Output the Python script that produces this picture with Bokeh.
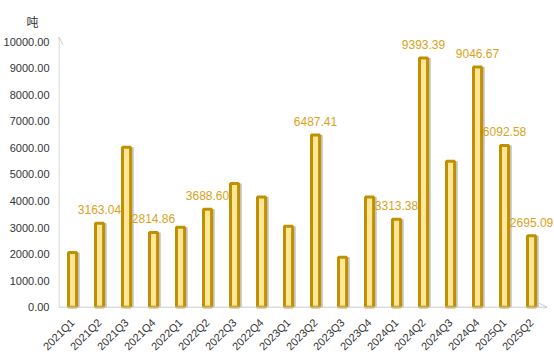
from bokeh.plotting import figure
from bokeh.models import ColumnDataSource, Range1d, FixedTicker, NumeralTickFormatter, Arrow, OpenHead, LabelSet
from bokeh.core.properties import value
from bokeh.transform import dodge
from bokeh.embed import file_html
from bokeh.resources import INLINE
import math

categories = ["2021Q1", "2021Q2", "2021Q3", "2021Q4", "2022Q1", "2022Q2", "2022Q3", "2022Q4",
              "2023Q1", "2023Q2", "2023Q3", "2023Q4", "2024Q1", "2024Q2", "2024Q3", "2024Q4",
              "2025Q1", "2025Q2"]
values = [2060.00, 3163.04, 6030.00, 2814.86, 3010.00, 3688.60, 4660.00, 4150.00,
          3050.00, 6487.41, 1880.00, 4150.00, 3313.38, 9393.39, 5500.00, 9046.67,
          6092.58, 2695.09]
labeled = ["2021Q2", "2021Q4", "2022Q2", "2023Q2", "2024Q1", "2024Q2", "2024Q4", "2025Q1", "2025Q2"]
y_ticks = [0, 1000, 2000, 3000, 4000, 5000, 6000, 7000, 8000, 9000, 10000]
unit = "吨"

xs = [i + 0.5 for i in range(len(categories))]
src = ColumnDataSource(dict(x=xs, top=values, cat=categories))
lab_idx = [categories.index(c) for c in labeled]
lab_src = ColumnDataSource(dict(x=[xs[i] for i in lab_idx], y=[values[i] for i in lab_idx],
                                text=["%.2f" % values[i] for i in lab_idx]))

p = figure(frame_width=495, frame_height=272, output_backend="svg", toolbar_location=None,
           x_range=Range1d(-0.02, 18.313), y_range=Range1d(-50, 10200),
           min_border_left=49, min_border_top=36, min_border_bottom=43, min_border_right=0)
p.outline_line_color = None
p.background_fill_color = "white"
p.border_fill_color = "white"
p.xgrid.visible = False
p.ygrid.visible = False

p.title.text = unit
p.title.align = "left"
p.title.vertical_align = "top"
p.title.offset = -32
p.title.text_font = "Noto Sans CJK SC"
p.title.text_font_size = "12px"
p.title.text_font_style = "normal"
p.title.text_color = "#333333"

# shadows
p.vbar(x=dodge("x", 0.1), top="top", bottom=0, width=0.34, source=src,
       fill_color="#000000", fill_alpha=0.22, line_color=None)
p.vbar(x="x", top="top", bottom=0, width=0.3, source=src,
       fill_color="#FFE699", line_color="#C09000", line_width=3)

p.add_layout(LabelSet(x="x", y="y", text="text", source=lab_src, y_offset=9,
                      text_align="center", text_baseline="bottom",
                      text_font=value("Liberation Sans"), text_font_size=value("12px"),
                      text_color=value("#D9A21B")))

# axis lines with arrows
p.add_layout(Arrow(x_start=0, y_start=0, x_end=0, y_end=10180, line_color="#CCCCCC", line_width=1,
                   end=OpenHead(size=8, line_color="#CCCCCC", line_width=1)))
p.add_layout(Arrow(x_start=0, y_start=0, x_end=18.08, y_end=0, line_color="#CCCCCC", line_width=1,
                   end=OpenHead(size=8, line_color="#CCCCCC", line_width=1)))

ya = p.yaxis[0]
ya.ticker = FixedTicker(ticks=y_ticks)
ya.formatter = NumeralTickFormatter(format="0.00")
ya.axis_line_color = None
ya.major_tick_line_color = None
ya.minor_tick_line_color = None
ya.major_label_standoff = 3
ya.major_label_text_font = "Liberation Sans"
ya.major_label_text_font_size = "11px"
ya.major_label_text_color = "#333333"

xa = p.xaxis[0]
xa.ticker = FixedTicker(ticks=xs)
xa.major_label_overrides = {x: c for x, c in zip(xs, categories)}
xa.major_label_orientation = math.pi / 4
xa.axis_line_color = None
xa.major_tick_line_color = None
xa.minor_tick_line_color = None
xa.major_label_standoff = 6
xa.major_label_text_font = "Liberation Sans"
xa.major_label_text_font_size = "11px"
xa.major_label_text_color = "#333333"

open("out.html", "w").write(file_html(p, INLINE))
